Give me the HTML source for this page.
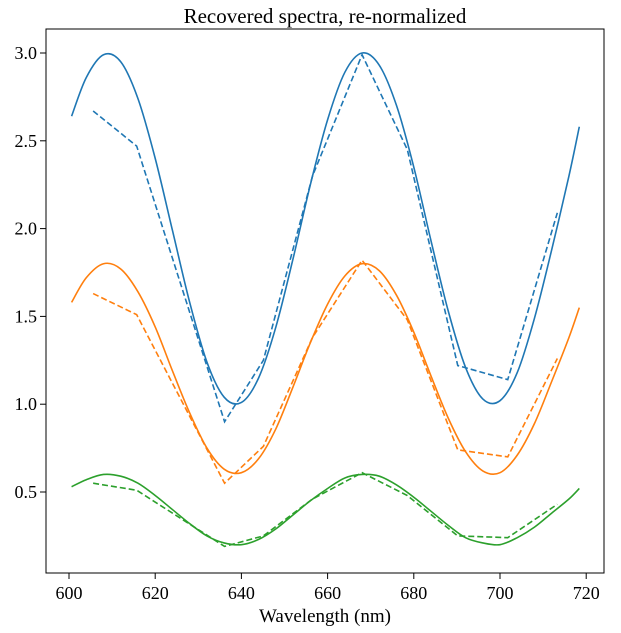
<!DOCTYPE html>
<html><head><meta charset="utf-8"><style>
body{margin:0;background:#fff}
svg{display:block;font-family:"Liberation Serif","DejaVu Serif",serif}
</style></head><body>
<svg id="chart" width="621" height="633"></svg>
<script>
const xs=[600.6,604,608,612,616,620,624,628,632,636,640,644,648,652,656,660,664,668,672,676,680,684,688,692,696,700,704,708,712,716,718.4];
const blueSolid=[2.64,2.86,2.99,2.95,2.74,2.40,1.99,1.58,1.24,1.04,1.01,1.15,1.44,1.83,2.25,2.62,2.89,3.00,2.93,2.70,2.35,1.93,1.53,1.21,1.03,1.02,1.18,1.49,1.88,2.30,2.58];
const orangeSolid=[1.58,1.72,1.80,1.77,1.64,1.44,1.19,0.95,0.75,0.63,0.61,0.69,0.86,1.10,1.35,1.57,1.73,1.80,1.76,1.62,1.41,1.16,0.92,0.73,0.62,0.61,0.71,0.89,1.13,1.38,1.55];
const greenSolid=[0.53,0.57,0.60,0.59,0.55,0.48,0.40,0.32,0.25,0.21,0.20,0.23,0.29,0.37,0.45,0.52,0.58,0.60,0.59,0.54,0.47,0.39,0.31,0.24,0.21,0.20,0.24,0.30,0.38,0.46,0.52];
const xd=[605.6,615.7,636.1,645.1,656.5,668.0,678.5,690.2,701.8,713.3];
const blueDash=[2.67,2.47,0.90,1.25,2.30,2.99,2.45,1.22,1.14,2.09];
const orangeDash=[1.63,1.51,0.55,0.76,1.38,1.82,1.48,0.74,0.70,1.26];
const greenDash=[0.55,0.51,0.19,0.25,0.46,0.61,0.48,0.25,0.24,0.43];
const xTicks=[600,620,640,660,680,700,720];
const yTicks=[0.5,1.0,1.5,2.0,2.5,3.0];
const yTickLabels=["0.5","1.0","1.5","2.0","2.5","3.0"];

const NS="http://www.w3.org/2000/svg";
const svg=document.getElementById('chart');
const L=46,R=604,T=29,B=573;
const X=v=>69+(v-600)*4.31;
const Y=v=>53+(3-v)*175.6;
function mk(tag,attrs,parent){const e=document.createElementNS(NS,tag);for(const k in attrs)e.setAttribute(k,attrs[k]);(parent||svg).appendChild(e);return e;}
function smooth(xv,yv){
 const p=xv.map((x,i)=>[X(x),Y(yv[i])]);
 let d=`M${p[0][0]},${p[0][1]}`;
 for(let i=0;i<p.length-1;i++){
  const p0=p[i-1]||p[i],p1=p[i],p2=p[i+1],p3=p[i+2]||p2;
  d+=` C${p1[0]+(p2[0]-p0[0])/6},${p1[1]+(p2[1]-p0[1])/6} ${p2[0]-(p3[0]-p1[0])/6},${p2[1]-(p3[1]-p1[1])/6} ${p2[0]},${p2[1]}`;
 }
 return d;
}
function poly(xv,yv){return xv.map((x,i)=>(i?'L':'M')+X(x)+','+Y(yv[i])).join(' ');}
const series=[["blue",blueSolid,blueDash,"#1f77b4"],["orange",orangeSolid,orangeDash,"#ff7f0e"],["green",greenSolid,greenDash,"#2ca02c"]];
series.forEach(s=>{
 const a=mk('path',{d:smooth(xs,s[1]),fill:'none',stroke:s[3],'stroke-width':1.6});
 
 
 const b=mk('path',{d:poly(xd,s[2]),fill:'none',stroke:s[3],'stroke-width':1.6,'stroke-dasharray':'6,3'});
 
 
});
const frame=mk('rect',{x:L,y:T,width:R-L,height:B-T,fill:'none',stroke:'#000','stroke-width':1});


xTicks.forEach(t=>{
 mk('line',{x1:X(t),x2:X(t),y1:B,y2:B+6,stroke:'#000'});
 const tx=mk('text',{x:X(t),y:B+26,'text-anchor':'middle','font-size':18});
 tx.textContent=t;
 
 
});
yTicks.forEach((t,i)=>{
 mk('line',{x1:L-6,x2:L,y1:Y(t),y2:Y(t),stroke:'#000'});
 const tx=mk('text',{x:L-9,y:Y(t)+6,'text-anchor':'end','font-size':18});
 tx.textContent=yTickLabels[i];
 
 
});
const xt=mk('text',{x:(L+R)/2,y:622,'text-anchor':'middle','font-size':19});
xt.textContent='Wavelength (nm)';


const ti=mk('text',{x:(L+R)/2,y:23,'text-anchor':'middle','font-size':21});
ti.textContent='Recovered spectra, re-normalized';


</script>
</body></html>
